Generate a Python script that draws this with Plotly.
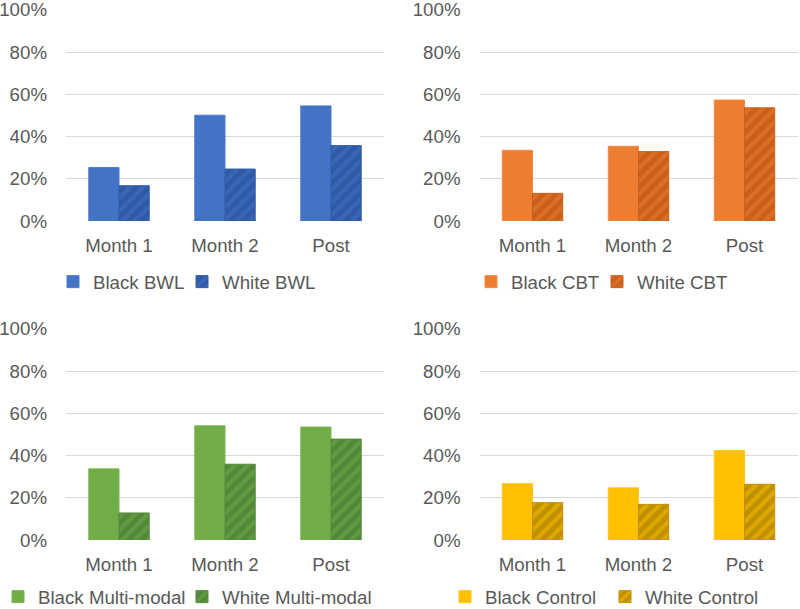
import plotly.graph_objects as go

categories = ["Month 1", "Month 2", "Post"]

black_bwl = [0.253, 0.501, 0.545]
white_bwl = [0.167, 0.246, 0.357]
black_cbt = [0.335, 0.354, 0.573]
white_cbt = [0.131, 0.329, 0.536]
black_mm = [0.337, 0.541, 0.535]
white_mm = [0.128, 0.359, 0.478]
black_ctl = [0.267, 0.247, 0.424]
white_ctl = [0.177, 0.169, 0.264]

y_ticks = [0, 0.2, 0.4, 0.6, 0.8, 1.0]

panels = [
    ("Black BWL", black_bwl, "White BWL", white_bwl, "#4472C4", "#2F5AA6", "#4A78CC"),
    ("Black CBT", black_cbt, "White CBT", white_cbt, "#ED7D31", "#C9601A", "#F08A45"),
    ("Black Multi-modal", black_mm, "White Multi-modal", white_mm, "#70AD47", "#53883A", "#7AB653"),
    ("Black Control", black_ctl, "White Control", white_ctl, "#FFC000", "#BF9000", "#FFC61A"),
]

W, H = 800, 609

def px(x0, x1):
    return [x0 / W, x1 / W]
def py(top, bottom):
    return [(H - bottom) / H, (H - top) / H]

x_doms = [px(66, 384), px(479.5, 797.5), px(66, 384), px(479.5, 797.5)]
y_doms = [py(9.8, 221), py(9.8, 221), py(328.8, 540), py(328.8, 540)]
# (text start of black item, text start of white item, vertical centre)
legend_pos = [(93, 222, 282), (511, 637, 282), (38, 222, 597), (485, 645, 597)]

font = dict(family="Liberation Sans, Arial, sans-serif", size=18.7, color="#595959")

fig = go.Figure()
layout = dict(
    width=W, height=H,
    margin=dict(l=0, r=0, t=0, b=0, autoexpand=False),
    paper_bgcolor="white", plot_bgcolor="white",
    barmode="group", bargap=0.43, bargroupgap=0.0,
    font=font, showlegend=True,
)

for i, (bn, bv, wn, wv, base, dark, light) in enumerate(panels):
    k = "" if i == 0 else str(i + 1)
    lg_b = "legend" if i == 0 else f"legend{2 * i + 1}"
    lg_w = f"legend{2 * i + 2}"
    fig.add_trace(go.Bar(
        x=categories, y=bv, name=bn, xaxis="x" + k, yaxis="y" + k, legend=lg_b,
        marker=dict(color=base, line=dict(color=light, width=1)),
    ))
    fig.add_trace(go.Bar(
        x=categories, y=wv, name=wn, xaxis="x" + k, yaxis="y" + k, legend=lg_w,
        marker=dict(color=dark, line=dict(color=dark, width=1),
                    pattern=dict(shape="/", fgcolor=base, size=9, solidity=0.45,
                                 fillmode="overlay")),
    ))
    layout["xaxis" + k] = dict(
        domain=x_doms[i], anchor="y" + k, showgrid=False, showline=False,
        automargin=False, ticklabeloverflow="allow",
        ticks="", ticklabelstandoff=11, tickfont=font, fixedrange=True,
    )
    layout["yaxis" + k] = dict(
        domain=y_doms[i], anchor="x" + k, range=[0, 1.0005],
        automargin=False, ticklabeloverflow="allow",
        tickvals=y_ticks, tickformat=".0%", showgrid=True,
        gridcolor="#D9D9D9", gridwidth=1, zeroline=False, showline=False,
        ticks="", ticklabelstandoff=18, tickfont=font, fixedrange=True,
    )
    tb, tw, ly = legend_pos[i]
    for lg, tx in ((lg_b, tb), (lg_w, tw)):
        layout[lg] = dict(
            orientation="h", x=(tx - 40) / W, y=(H - ly) / H,
            xanchor="left", yanchor="middle", font=font,
            bgcolor="rgba(0,0,0,0)", itemwidth=30, tracegroupgap=0,
        )

fig.update_layout(**layout)
fig.write_html(
    "out.html",
    config={"displayModeBar": False},
    post_script="document.body.style.margin='0px';document.body.style.overflow='hidden';",
)
